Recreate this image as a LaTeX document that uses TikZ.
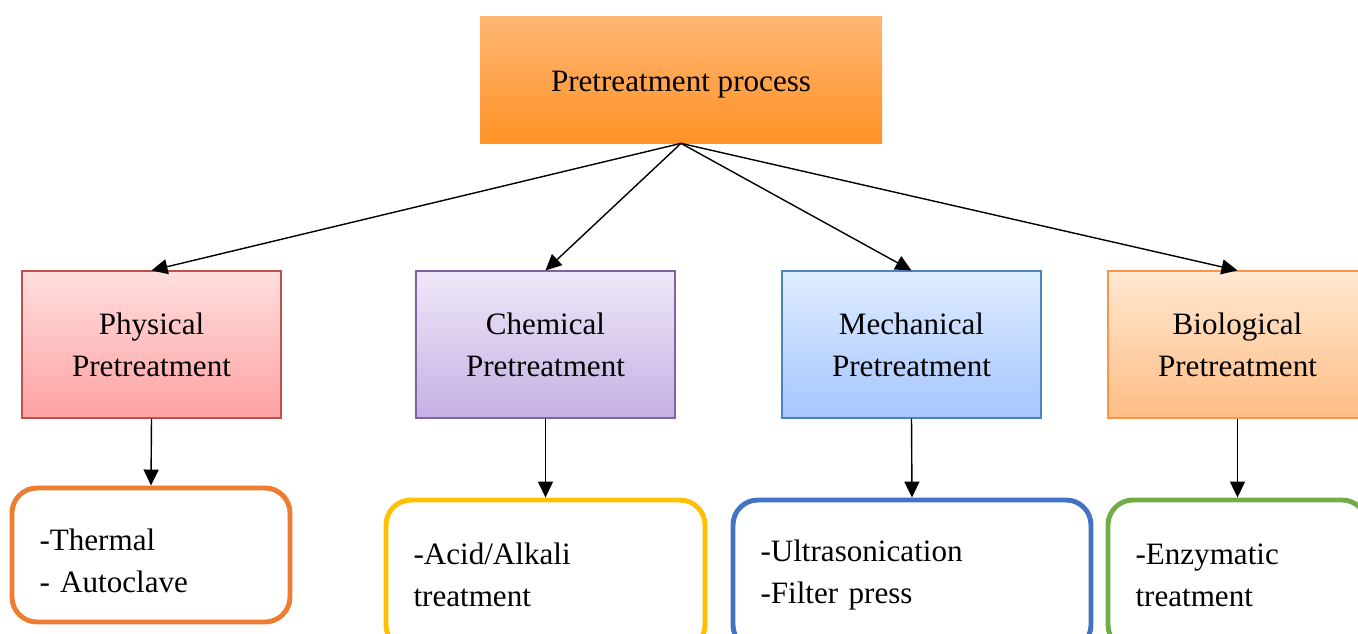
\documentclass[tikz,border=0pt]{standalone}
\usepackage{fontspec}
\setmainfont{Liberation Serif}
\usetikzlibrary{arrows.meta}

\definecolor{topA}{HTML}{FFB673}
\definecolor{topB}{HTML}{FF9226}
\definecolor{phyA}{HTML}{FFDEDE}
\definecolor{phyB}{HTML}{FFA2A2}
\definecolor{phyD}{HTML}{C0504D}
\definecolor{cheA}{HTML}{EFE8F8}
\definecolor{cheB}{HTML}{C4B0E3}
\definecolor{cheD}{HTML}{8064A2}
\definecolor{mecA}{HTML}{DEECFF}
\definecolor{mecB}{HTML}{A6C6FF}
\definecolor{mecD}{HTML}{4F81BD}
\definecolor{bioA}{HTML}{FFE8D2}
\definecolor{bioB}{HTML}{FFBD84}
\definecolor{bioD}{HTML}{F79646}
\definecolor{lineO}{HTML}{ED7D31}
\definecolor{lineY}{HTML}{FFC000}
\definecolor{lineB}{HTML}{4472C4}
\definecolor{lineG}{HTML}{70AD47}

\begin{document}
\begin{tikzpicture}[
   every node/.style={font=\fontsize{17.7}{23.8}\selectfont},
   catbox/.style={rectangle,minimum width=5.18cm,minimum height=2.94cm,align=center,line width=0.6pt},
   listbox/.style={rectangle,rounded corners=0.5cm,line width=2.8pt,fill=white,align=left,inner xsep=0.55cm},
   arr/.style={-{Triangle[length=0.32cm,width=0.3cm]},line width=0.8pt}
  ]
   \useasboundingbox (0,0) rectangle (27.16,12.66);
   % main box
   \node[rectangle,minimum width=8.04cm,minimum height=2.52cm,text height=0.6cm,top color=topA,bottom color=topB] (main) at (13.62,11.06) {Pretreatment process};
   % the four kinds
   \node[catbox,draw=phyD,top color=phyA,bottom color=phyB] (phys) at (3.03,5.77) {Physical\\Pretreatment};
   \node[catbox,draw=cheD,top color=cheA,bottom color=cheB] (chem) at (10.91,5.77) {Chemical\\Pretreatment};
   \node[catbox,draw=mecD,top color=mecA,bottom color=mecB] (mech) at (18.23,5.77) {Mechanical\\Pretreatment};
   \node[catbox,draw=bioD,top color=bioA,bottom color=bioB] (bio) at (24.75,5.77) {Biological\\Pretreatment};
   % examples
   \node[listbox,draw=lineO,minimum width=5.56cm,minimum height=2.68cm,text width=4.46cm,text height=0.66cm] (thermal) at (3.02,1.56) {-Thermal\\- Autoclave};
   \node[listbox,draw=lineY,minimum width=6.38cm,minimum height=3.0cm,text width=5.28cm] (acid) at (10.91,1.16) {-Acid/Alkali\\treatment};
   \node[listbox,draw=lineB,minimum width=7.16cm,minimum height=3.0cm,text width=6.06cm] (ultra) at (18.24,1.16) {-Ultrasonication\\-Filter press};
   \node[listbox,draw=lineG,minimum width=5.18cm,minimum height=3.0cm,text width=4.08cm] (enzy) at (24.75,1.16) {-Enzymatic\\treatment};
   % arrows
   \foreach \n in {phys,chem,mech,bio} {
    \draw[arr] (main.south) -- (\n.north);
   }
   \draw[arr] (phys.south) -- (thermal.north);
   \draw[arr] (chem.south) -- (acid.north);
   \draw[arr] (mech.south) -- (ultra.north);
   \draw[arr] (bio.south) -- (enzy.north);
\end{tikzpicture}
\end{document}
